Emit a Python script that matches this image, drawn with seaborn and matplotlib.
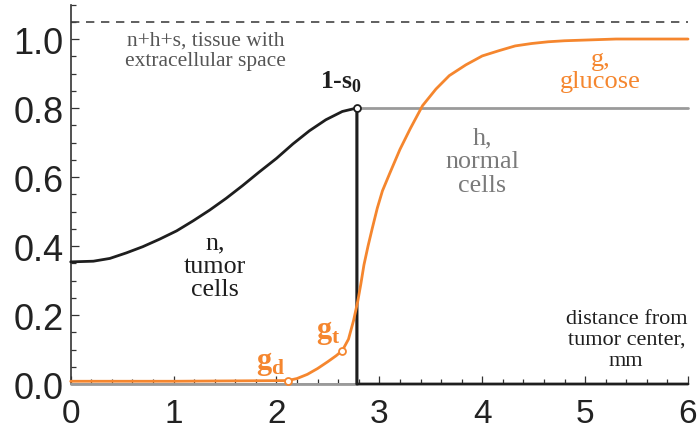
import matplotlib
matplotlib.use("Agg")
import matplotlib.pyplot as plt
import seaborn as sns
import pandas as pd

# n, tumor cells (drops to zero at the tumor edge)
n_x = [0.0, 0.22, 0.38, 0.54, 0.70, 0.865, 1.03, 1.19, 1.35, 1.51, 1.67, 1.83,
       2.0, 2.16, 2.32, 2.48, 2.64, 2.78, 2.78, 6.0]
n_y = [0.354, 0.356, 0.364, 0.38, 0.398, 0.42, 0.444, 0.473, 0.504, 0.538, 0.575, 0.614,
       0.654, 0.696, 0.734, 0.766, 0.79, 0.80, 0.0, 0.0]

# h, normal cells
h_x = [0.0, 2.78, 2.78, 6.0]
h_y = [0.0, 0.0, 0.80, 0.80]

# g, glucose
g_x = [0.0, 1.0, 2.11, 2.2, 2.3, 2.4, 2.5, 2.58, 2.64, 2.70, 2.75, 2.79, 2.82,
       2.85, 2.89, 2.93, 2.98, 3.03, 3.1, 3.2, 3.3, 3.42, 3.55, 3.68, 3.84,
       4.0, 4.16, 4.32, 4.48, 4.64, 4.8, 5.0, 5.3, 6.0]
g_y = [0.008, 0.008, 0.01, 0.016, 0.028, 0.045, 0.065, 0.082, 0.097, 0.13, 0.185, 0.24, 0.29,
       0.345, 0.40, 0.45, 0.51, 0.56, 0.61, 0.68, 0.74, 0.807, 0.855, 0.894, 0.925,
       0.951, 0.966, 0.98, 0.987, 0.992, 0.995, 0.997, 1.0, 1.0]

# special points: 1-s0, g_t, g_d
edge_pt = (2.78, 0.80)
gt_pt = (2.64, 0.097)
gd_pt = (2.11, 0.01)

total_level = 1.05  # n+h+s

x_ticks = [0, 1, 2, 3, 4, 5, 6]
y_ticks = [0.0, 0.2, 0.4, 0.6, 0.8, 1.0]

ORANGE = "#F5862E"
BLACK = "#1e1e1e"
GRAY = "#9a9a9a"
SERIF = ["Liberation Serif", "DejaVu Serif"]

sns.set_theme(style="ticks")
plt.rcParams["font.family"] = SERIF
plt.rcParams["mathtext.fontset"] = "custom"
plt.rcParams["mathtext.rm"] = "Liberation Serif"
plt.rcParams["mathtext.bf"] = "Liberation Serif:bold"

fig = plt.figure(figsize=(6.98, 4.35), dpi=100)
ax = fig.add_axes([0.1013, 0.1149, 0.8844, 0.8724])

n_df = pd.DataFrame({"x": n_x, "y": n_y})
h_df = pd.DataFrame({"x": h_x, "y": h_y})
g_df = pd.DataFrame({"x": g_x, "y": g_y})

sns.lineplot(data=h_df, x="x", y="y", ax=ax, color=GRAY, lw=2.0,
             estimator=None, sort=False, clip_on=False, zorder=3)
sns.lineplot(data=n_df, x="x", y="y", ax=ax, color=BLACK, lw=2.0,
             estimator=None, sort=False, clip_on=False, zorder=3)
sns.lineplot(data=g_df, x="x", y="y", ax=ax, color=ORANGE, lw=2.0,
             estimator=None, sort=False, clip_on=False, zorder=3)

ax.axhline(total_level, color="#444444", lw=1.2, ls=(0, (5, 4)))

ax.plot(*edge_pt, "o", ms=5, mfc="white", mec=BLACK, mew=1.3, zorder=5, clip_on=False)
ax.plot(*gt_pt, "o", ms=5, mfc="white", mec=ORANGE, mew=1.3, zorder=5)
ax.plot(*gd_pt, "o", ms=5, mfc="white", mec=ORANGE, mew=1.3, zorder=5, clip_on=False)

ax.set_xlim(0, 6)
ax.set_ylim(0, 1.1)
ax.set_xticks(x_ticks)
ax.set_yticks(y_ticks)
ax.set_xticks([i * 0.2 for i in range(31)], minor=True)
ax.set_yticks([i * 0.05 for i in range(23)], minor=True)
ax.set_xticklabels([str(t) for t in x_ticks])
ax.set_yticklabels([f"{t:.1f}" for t in y_ticks])
ax.set_xlabel("")
ax.set_ylabel("")

ax.tick_params(which="both", direction="in", color="#333333", width=0.9)
ax.tick_params(which="major", length=5.5)
ax.tick_params(which="minor", length=3.5)
ax.tick_params(axis="x", which="major", pad=10)
ax.tick_params(axis="y", which="major", pad=5)
for lab in ax.get_xticklabels() + ax.get_yticklabels():
    lab.set_family("Liberation Sans")
    lab.set_color("#222222")
for lab in ax.get_xticklabels():
    lab.set_fontsize(24)
for lab in ax.get_yticklabels():
    lab.set_fontsize(26)

sns.despine(ax=ax)
ax.spines["left"].set_color("#333333")
ax.spines["left"].set_linewidth(1.2)
ax.spines["bottom"].set_color(GRAY)
ax.spines["bottom"].set_linewidth(1.2)

# annotations
ax.text(1.31, 0.967, "n+h+s, tissue with\nextracellular space", ha="center", va="center",
        fontsize=15.5, color="#555555", linespacing=1.15, family=SERIF)
ax.text(2.63, 0.878, r"1-$\mathbf{s}_\mathbf{0}$", ha="center", va="center",
        fontsize=18.5, fontweight="bold", color=BLACK, family=SERIF)
ax.text(5.15, 0.91, "g,\nglucose", ha="center", va="center",
        fontsize=19, color=ORANGE, linespacing=1.0, family=SERIF)
ax.text(4.0, 0.647, "h,\nnormal\ncells", ha="center", va="center",
        fontsize=18.8, color="#7a7a7a", linespacing=1.1, family=SERIF)
ax.text(1.40, 0.343, "n,\ntumor\ncells", ha="center", va="center",
        fontsize=18.7, color=BLACK, linespacing=1.1, family=SERIF)
ax.text(5.40, 0.13, "distance from\ntumor center,\nmm", ha="center", va="center",
        fontsize=16, color=BLACK, linespacing=1.15, family=SERIF)
ax.text(2.50, 0.136, r"$\mathbf{g}_\mathbf{t}$", ha="center", va="baseline",
        fontsize=22, color=ORANGE)
ax.text(1.94, 0.047, r"$\mathbf{g}_\mathbf{d}$", ha="center", va="baseline",
        fontsize=22, color=ORANGE)

fig.savefig("out.png", dpi=100)
